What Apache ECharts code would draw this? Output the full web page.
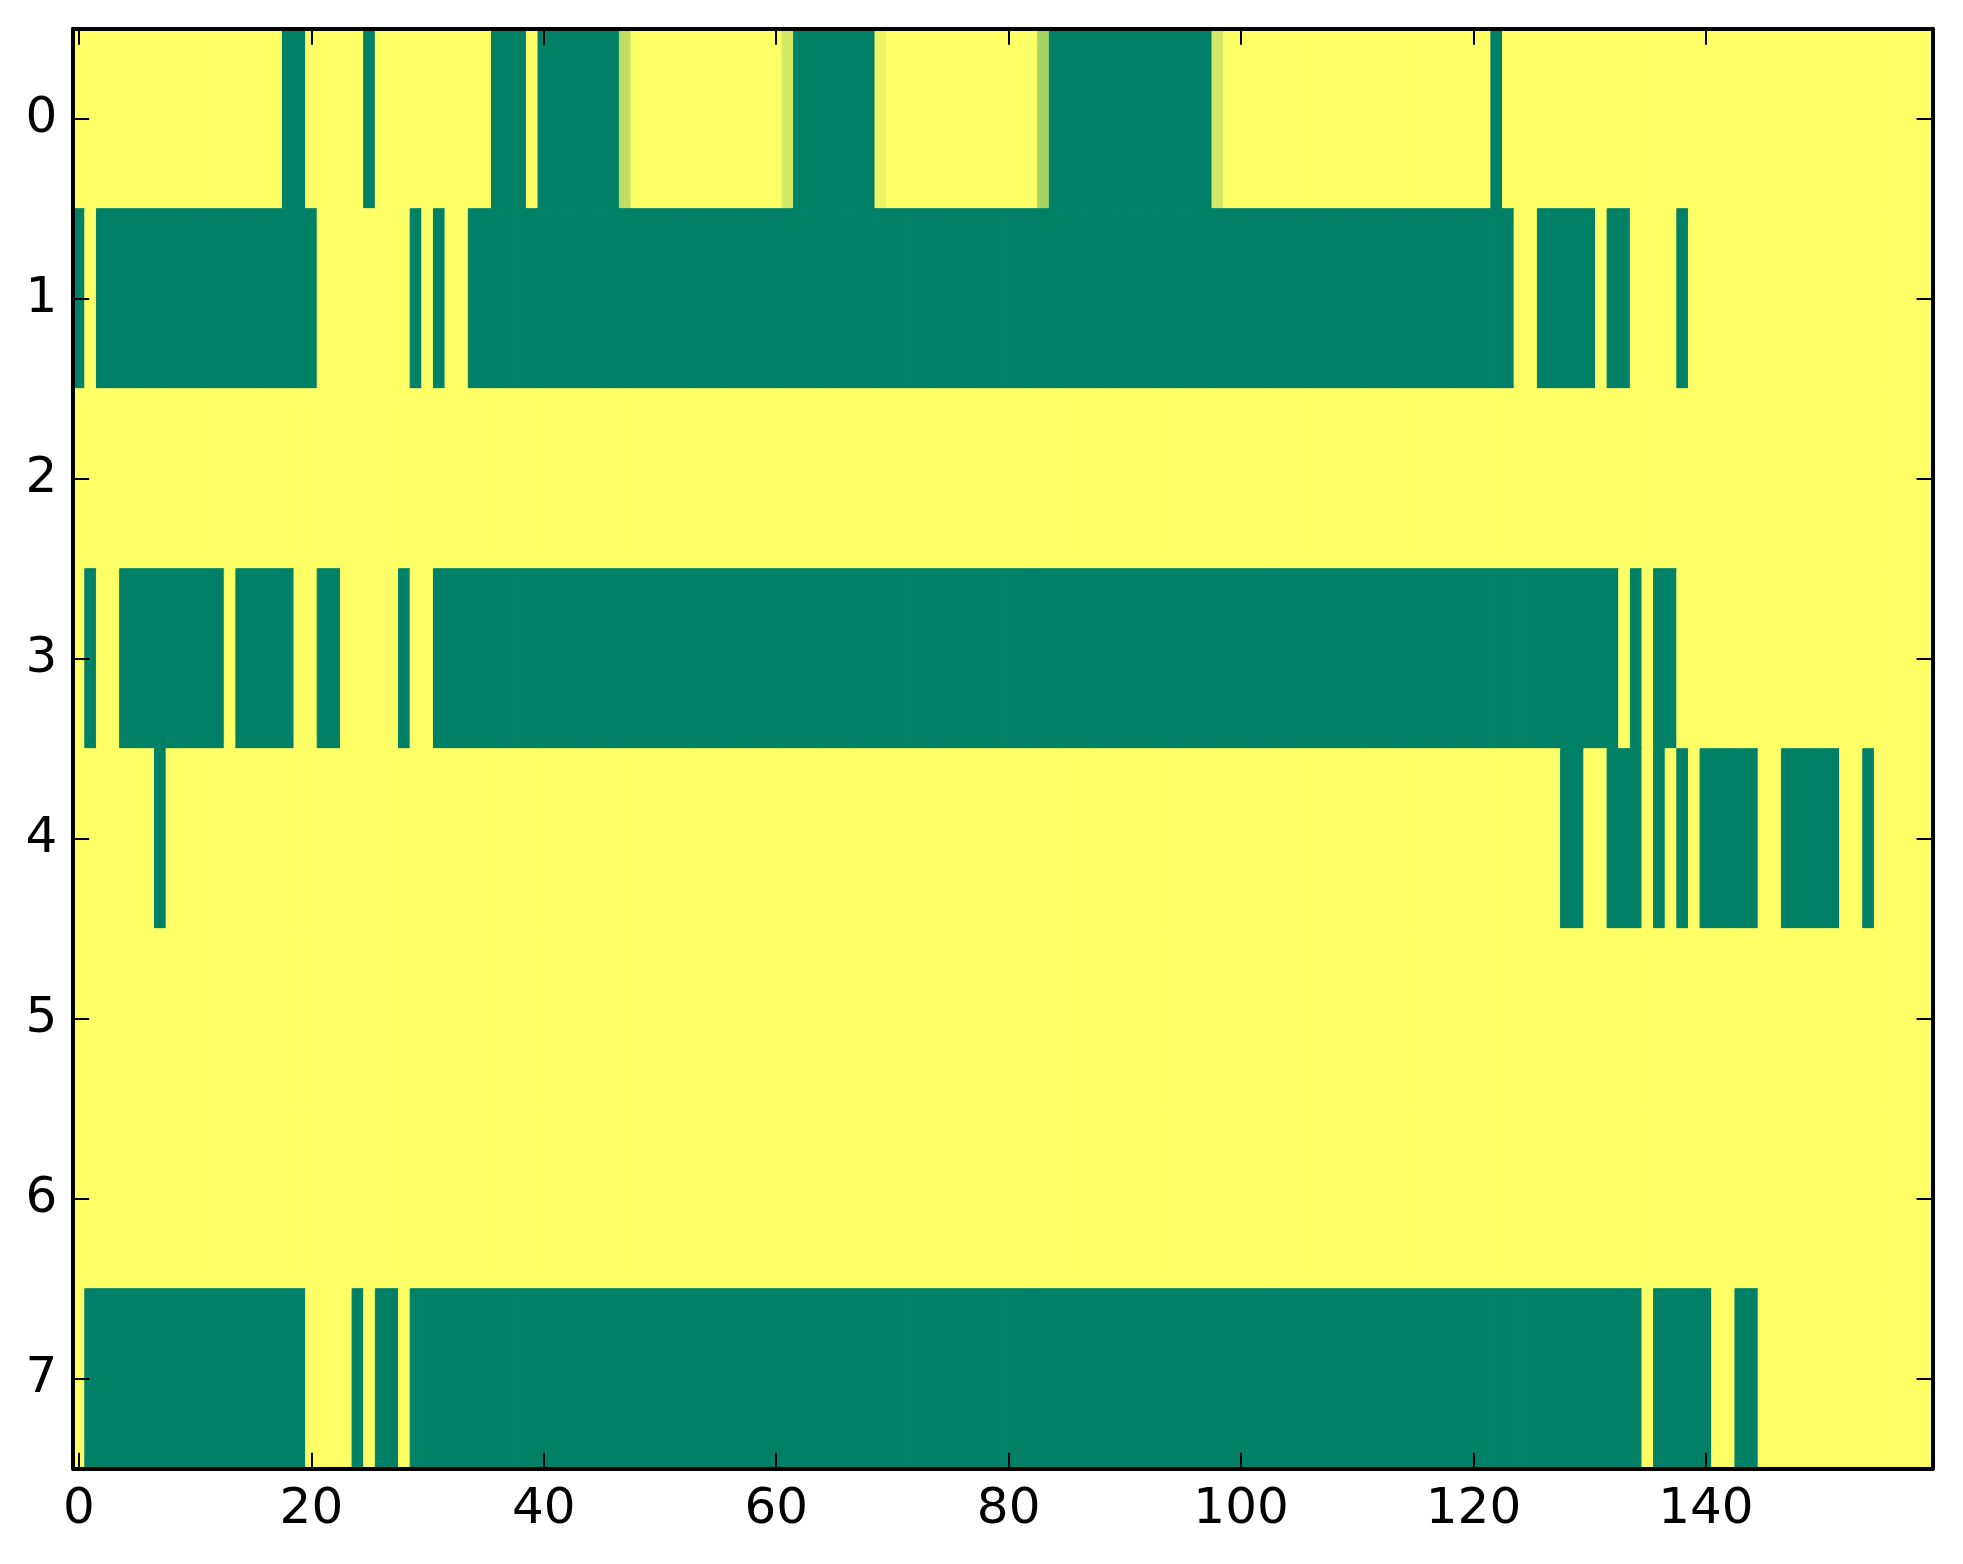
<!DOCTYPE html>
<html>
<head>
<meta charset="utf-8">
<script src="https://cdn.jsdelivr.net/npm/echarts@6/dist/echarts.min.js"></script>
<style>
  html, body { margin: 0; padding: 0; background: #fff; }
  #chart { width: 1963px; height: 1564px; }
</style>
</head>
<body>
<div id="chart"></div>
<script>
// one value per column (0..159), 0 = green, 1 = yellow
const row0 = [
  1,1,1,1,1,1,1,1,1,1,1,1,1,1,1,1,1,1,0,0,
  1,1,1,1,1,0,1,1,1,1,1,1,1,1,1,1,0,0,0,1,
  0,0,0,0,0,0,0,0.75,1,1,1,1,1,1,1,1,1,1,1,1,
  1,0.83,0,0,0,0,0,0,0,0.92,1,1,1,1,1,1,1,1,1,1,
  1,1,1,0.65,0,0,0,0,0,0,0,0,0,0,0,0,0,0,0.83,1,
  1,1,1,1,1,1,1,1,1,1,1,1,1,1,1,1,1,1,1,1,
  1,1,0,1,1,1,1,1,1,1,1,1,1,1,1,1,1,1,1,1,
  1,1,1,1,1,1,1,1,1,1,1,1,1,1,1,1,1,1,1,1
]
const row1 = [
  0,1,0,0,0,0,0,0,0,0,0,0,0,0,0,0,0,0,0,0,
  0,1,1,1,1,1,1,1,1,0,1,0,1,1,0,0,0,0,0,0,
  0,0,0,0,0,0,0,0,0,0,0,0,0,0,0,0,0,0,0,0,
  0,0,0,0,0,0,0,0,0,0,0,0,0,0,0,0,0,0,0,0,
  0,0,0,0,0,0,0,0,0,0,0,0,0,0,0,0,0,0,0,0,
  0,0,0,0,0,0,0,0,0,0,0,0,0,0,0,0,0,0,0,0,
  0,0,0,0,1,1,0,0,0,0,0,1,0,0,1,1,1,1,0,1,
  1,1,1,1,1,1,1,1,1,1,1,1,1,1,1,1,1,1,1,1
]
const row2 = [
  1,1,1,1,1,1,1,1,1,1,1,1,1,1,1,1,1,1,1,1,
  1,1,1,1,1,1,1,1,1,1,1,1,1,1,1,1,1,1,1,1,
  1,1,1,1,1,1,1,1,1,1,1,1,1,1,1,1,1,1,1,1,
  1,1,1,1,1,1,1,1,1,1,1,1,1,1,1,1,1,1,1,1,
  1,1,1,1,1,1,1,1,1,1,1,1,1,1,1,1,1,1,1,1,
  1,1,1,1,1,1,1,1,1,1,1,1,1,1,1,1,1,1,1,1,
  1,1,1,1,1,1,1,1,1,1,1,1,1,1,1,1,1,1,1,1,
  1,1,1,1,1,1,1,1,1,1,1,1,1,1,1,1,1,1,1,1
]
const row3 = [
  1,0,1,1,0,0,0,0,0,0,0,0,0,1,0,0,0,0,0,1,
  1,0,0,1,1,1,1,1,0,1,1,0,0,0,0,0,0,0,0,0,
  0,0,0,0,0,0,0,0,0,0,0,0,0,0,0,0,0,0,0,0,
  0,0,0,0,0,0,0,0,0,0,0,0,0,0,0,0,0,0,0,0,
  0,0,0,0,0,0,0,0,0,0,0,0,0,0,0,0,0,0,0,0,
  0,0,0,0,0,0,0,0,0,0,0,0,0,0,0,0,0,0,0,0,
  0,0,0,0,0,0,0,0,0,0,0,0,0,1,0,1,0,0,1,1,
  1,1,1,1,1,1,1,1,1,1,1,1,1,1,1,1,1,1,1,1
]
const row4 = [
  1,1,1,1,1,1,1,0,1,1,1,1,1,1,1,1,1,1,1,1,
  1,1,1,1,1,1,1,1,1,1,1,1,1,1,1,1,1,1,1,1,
  1,1,1,1,1,1,1,1,1,1,1,1,1,1,1,1,1,1,1,1,
  1,1,1,1,1,1,1,1,1,1,1,1,1,1,1,1,1,1,1,1,
  1,1,1,1,1,1,1,1,1,1,1,1,1,1,1,1,1,1,1,1,
  1,1,1,1,1,1,1,1,1,1,1,1,1,1,1,1,1,1,1,1,
  1,1,1,1,1,1,1,1,0,0,1,1,0,0,0,1,0,1,0,1,
  0,0,0,0,0,1,1,0,0,0,0,0,1,1,0,1,1,1,1,1
]
const row5 = [
  1,1,1,1,1,1,1,1,1,1,1,1,1,1,1,1,1,1,1,1,
  1,1,1,1,1,1,1,1,1,1,1,1,1,1,1,1,1,1,1,1,
  1,1,1,1,1,1,1,1,1,1,1,1,1,1,1,1,1,1,1,1,
  1,1,1,1,1,1,1,1,1,1,1,1,1,1,1,1,1,1,1,1,
  1,1,1,1,1,1,1,1,1,1,1,1,1,1,1,1,1,1,1,1,
  1,1,1,1,1,1,1,1,1,1,1,1,1,1,1,1,1,1,1,1,
  1,1,1,1,1,1,1,1,1,1,1,1,1,1,1,1,1,1,1,1,
  1,1,1,1,1,1,1,1,1,1,1,1,1,1,1,1,1,1,1,1
]
const row6 = [
  1,1,1,1,1,1,1,1,1,1,1,1,1,1,1,1,1,1,1,1,
  1,1,1,1,1,1,1,1,1,1,1,1,1,1,1,1,1,1,1,1,
  1,1,1,1,1,1,1,1,1,1,1,1,1,1,1,1,1,1,1,1,
  1,1,1,1,1,1,1,1,1,1,1,1,1,1,1,1,1,1,1,1,
  1,1,1,1,1,1,1,1,1,1,1,1,1,1,1,1,1,1,1,1,
  1,1,1,1,1,1,1,1,1,1,1,1,1,1,1,1,1,1,1,1,
  1,1,1,1,1,1,1,1,1,1,1,1,1,1,1,1,1,1,1,1,
  1,1,1,1,1,1,1,1,1,1,1,1,1,1,1,1,1,1,1,1
]
const row7 = [
  1,0,0,0,0,0,0,0,0,0,0,0,0,0,0,0,0,0,0,0,
  1,1,1,1,0,1,0,0,1,0,0,0,0,0,0,0,0,0,0,0,
  0,0,0,0,0,0,0,0,0,0,0,0,0,0,0,0,0,0,0,0,
  0,0,0,0,0,0,0,0,0,0,0,0,0,0,0,0,0,0,0,0,
  0,0,0,0,0,0,0,0,0,0,0,0,0,0,0,0,0,0,0,0,
  0,0,0,0,0,0,0,0,0,0,0,0,0,0,0,0,0,0,0,0,
  0,0,0,0,0,0,0,0,0,0,0,0,0,0,0,1,0,0,0,0,
  0,1,1,0,0,1,1,1,1,1,1,1,1,1,1,1,1,1,1,1
]
const rows = [row0, row1, row2, row3, row4, row5, row6, row7]

const xTicks = [0, 20, 40, 60, 80, 100, 120, 140]
const yTicks = [0, 1, 2, 3, 4, 5, 6, 7]

const cells = []
rows.forEach((row, r) => {
    row.forEach((v, c) => {
        cells.push([c, r, v])
    })
})

const font = "DejaVu Sans"
const spine = { show: true, onZero: false, lineStyle: { color: "#000", width: 4 } }
const tick = (vals) => ({
    show: true, inside: true, length: 16, customValues: vals,
    lineStyle: { color: "#000", width: 2 }
})

const chart = echarts.init(document.getElementById("chart"), null, { renderer: "canvas" })

const option = {
    animation: false,
    backgroundColor: "#fff",
    grid: { left: 73.2, top: 28.7, right: 30.5, bottom: 95.3 },
    visualMap: {
        type: "continuous",
        show: false,
        min: 0,
        max: 1,
        dimension: 2,
        seriesIndex: 0,
        inRange: { color: ["#008066", "#ffff66"] }
    },
    xAxis: [
        {
            type: "value", position: "bottom", min: -0.5, max: 159.5, z: 10,
            axisLine: spine, axisTick: tick(xTicks), splitLine: { show: false },
            axisLabel: {
                customValues: xTicks, margin: 16, color: "#000",
                fontFamily: font, fontSize: 50
            }
        },
        {
            type: "value", position: "top", min: -0.5, max: 159.5, z: 10,
            axisLine: spine, axisTick: tick(xTicks), splitLine: { show: false },
            axisLabel: { show: false }
        }
    ],
    yAxis: [
        {
            type: "value", position: "left", inverse: true, min: -0.5, max: 7.5, z: 10,
            axisLine: spine, axisTick: tick(yTicks), splitLine: { show: false },
            axisLabel: {
                customValues: yTicks, margin: 16, color: "#000",
                fontFamily: font, fontSize: 50
            }
        },
        {
            type: "value", position: "right", inverse: true, min: -0.5, max: 7.5, z: 10,
            axisLine: spine, axisTick: tick(yTicks), splitLine: { show: false },
            axisLabel: { show: false }
        }
    ],
    series: [
        {
            type: "custom",
            xAxisIndex: 0,
            yAxisIndex: 0,
            data: cells,
            encode: { x: 0, y: 1 },
            renderItem: (params, api) => {
                const c = api.value(0)
                const r = api.value(1)
                const p0 = api.coord([c - 0.5, r - 0.5])
                const p1 = api.coord([c + 0.5, r + 0.5])
                const color = api.visual("color")
                return {
                    type: "rect",
                    shape: {
                        x: Math.min(p0[0], p1[0]),
                        y: Math.min(p0[1], p1[1]),
                        width: Math.abs(p1[0] - p0[0]),
                        height: Math.abs(p1[1] - p0[1])
                    },
                    style: { fill: color, stroke: color, lineWidth: 1 }
                }
            }
        }
    ]
}
chart.setOption(option)
</script>
</body>
</html>
